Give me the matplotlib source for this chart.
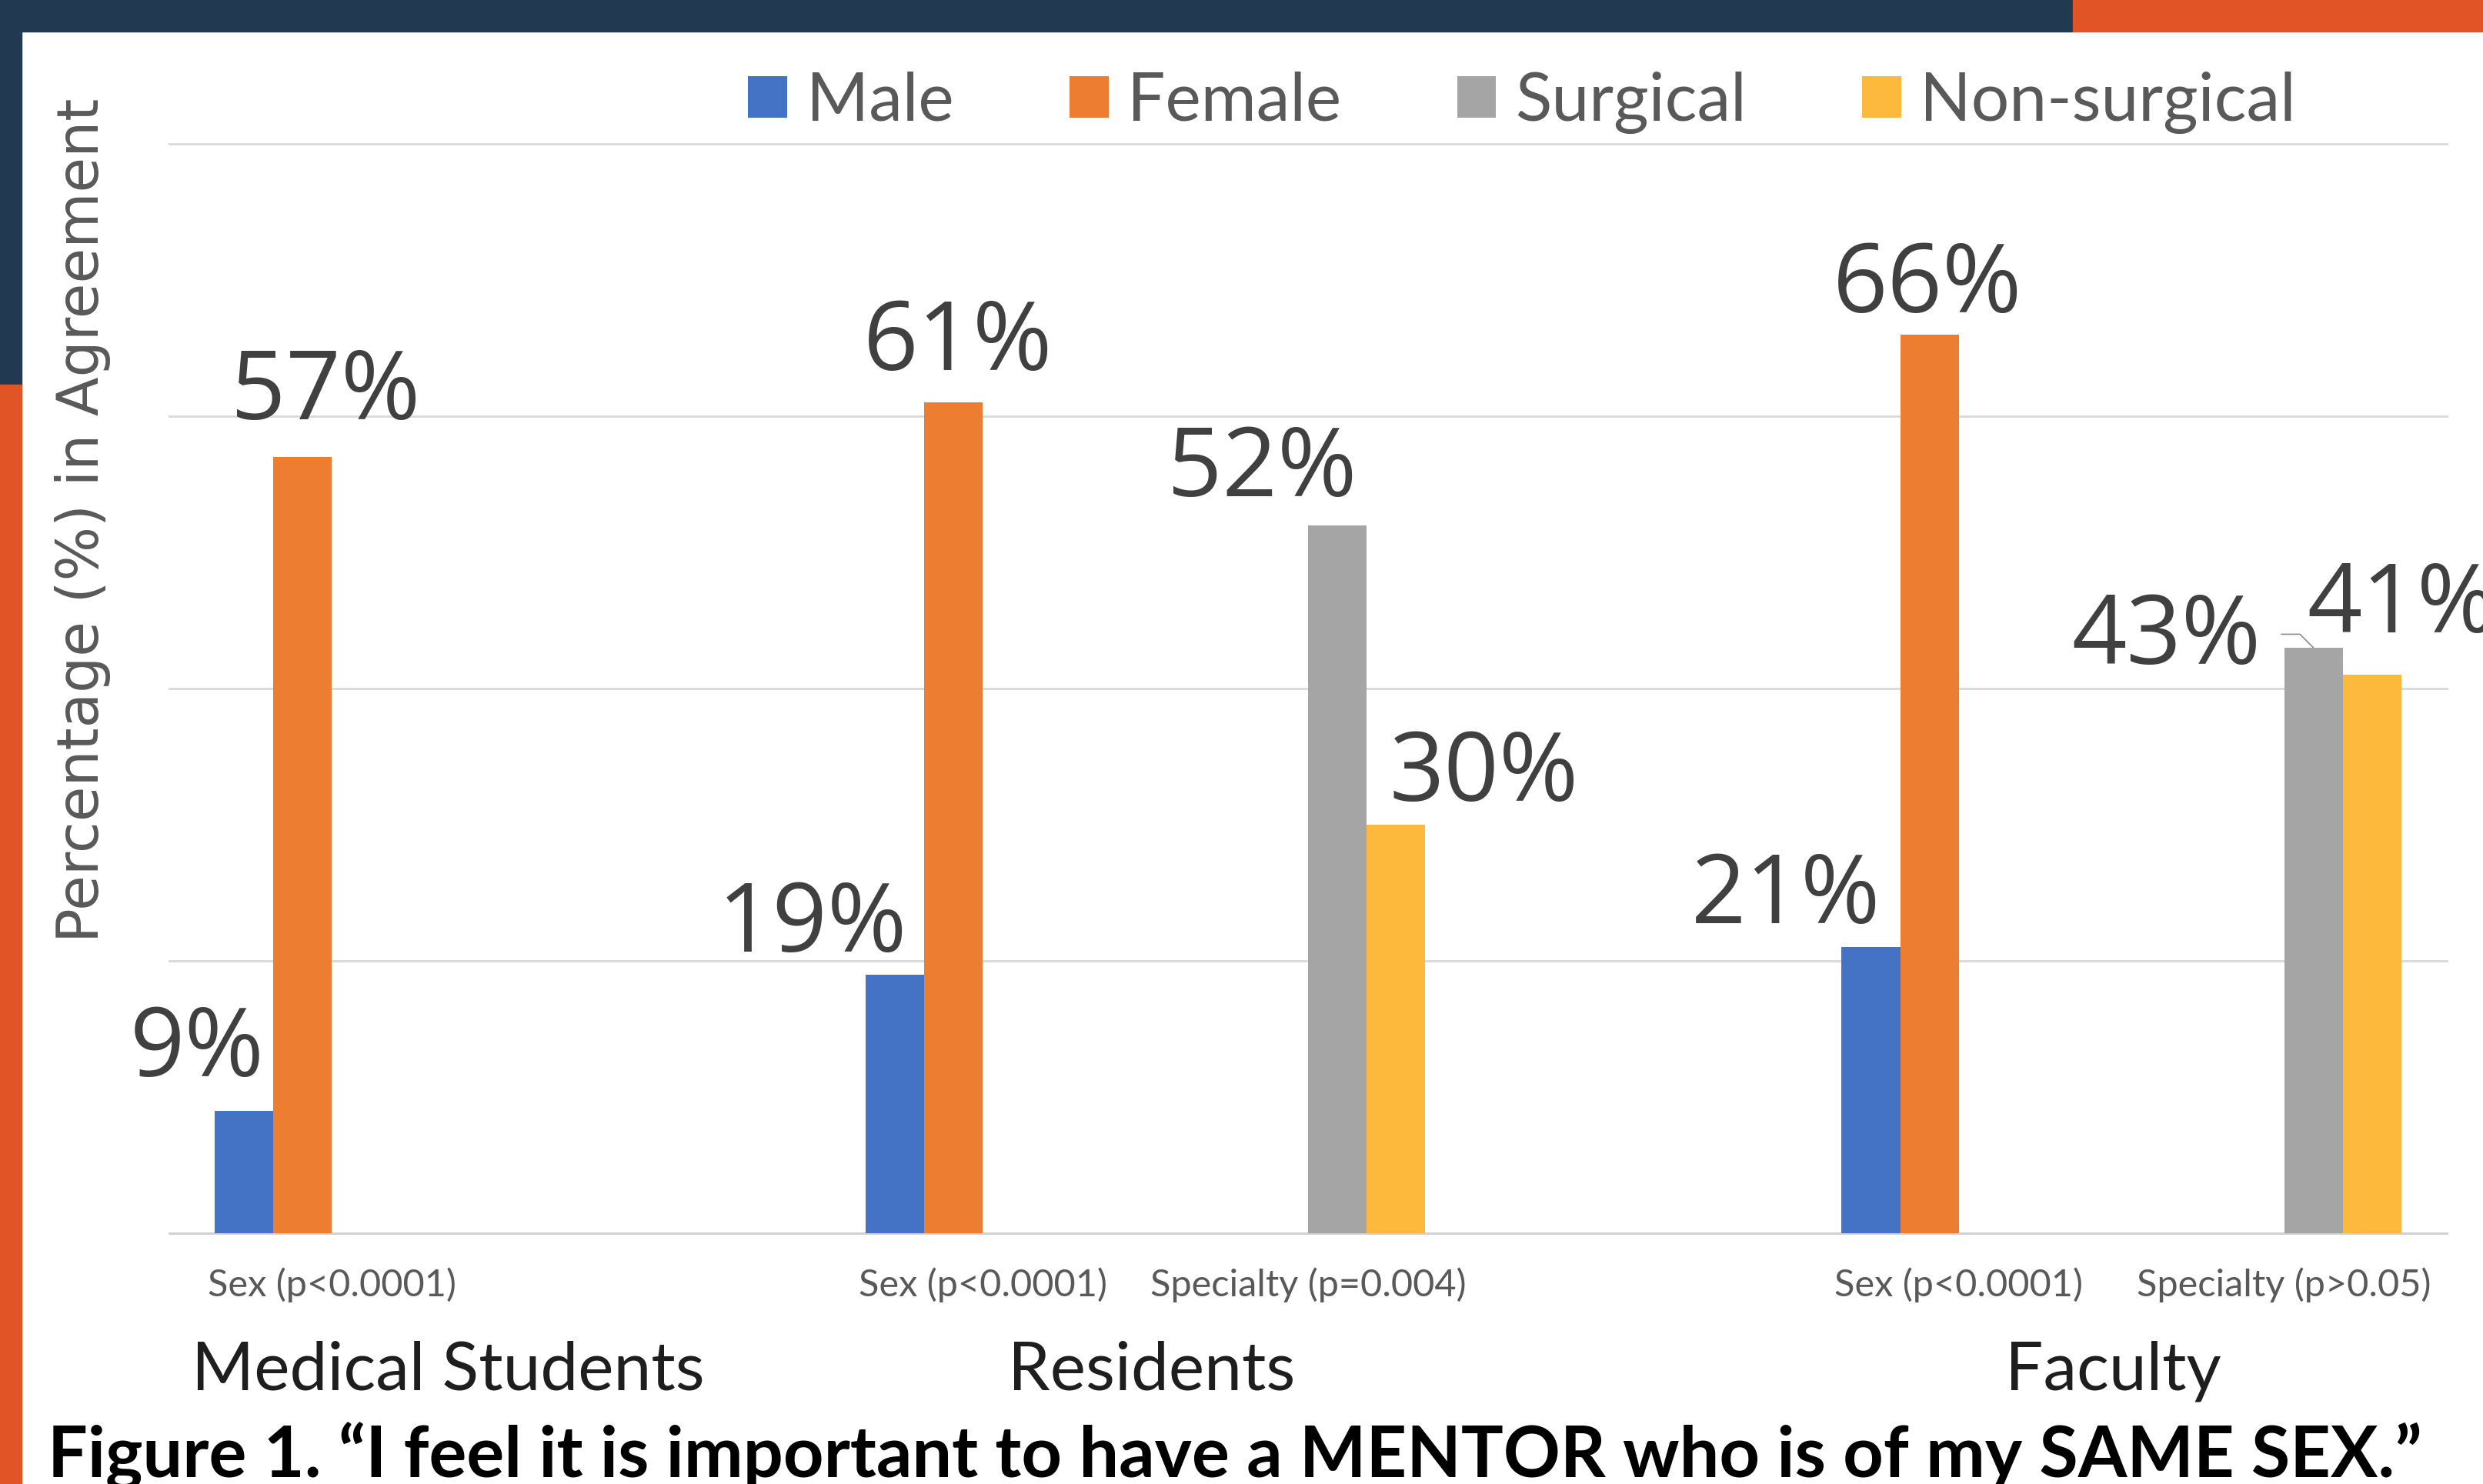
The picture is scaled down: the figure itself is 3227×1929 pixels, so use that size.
import numpy as np
import matplotlib
matplotlib.use('Agg')
import matplotlib.pyplot as plt
from matplotlib.patches import Rectangle, Patch

# data
categories = ['Sex (p<0.0001)', '', 'Sex (p<0.0001)', 'Specialty (p=0.004)', '',
              'Sex (p<0.0001)', 'Specialty (p>0.05)']
groups = ['Medical Students', 'Residents', 'Faculty']
series = ['Male', 'Female', 'Surgical', 'Non-surgical']
male = [9, np.nan, 19, np.nan, np.nan, 21, np.nan]
female = [57, np.nan, 61, np.nan, np.nan, 66, np.nan]
surgical = [np.nan, np.nan, np.nan, 52, np.nan, np.nan, 43]
non_surgical = [np.nan, np.nan, np.nan, 30, np.nan, np.nan, 41]
title = 'Figure 1. \u201cI feel it is important to have a MENTOR who is of my SAME SEX.\u201d'

colors = ['#4472C4', '#ED7D31', '#A5A5A5', '#FDB93B']
values = [male, female, surgical, non_surgical]

# label nudges (category units, percent) for the hand-placed data labels
label_shift = {
    (0, 0): (-0.144, 2.5), (1, 0): (0.071, 2.8),
    (0, 2): (-0.253, 1.7), (1, 2): (0.014, 2.4),
    (2, 3): (-0.232, 2.1), (3, 3): (0.27, 1.75),
    (0, 5): (-0.262, 1.75), (1, 5): (-0.007, 1.6),
    (2, 6): (-0.452, -1.2), (3, 6): (0.092, 3.1),
}
group_x = [0.356, 2.518, 5.474]

W, H = 3227, 1929
fig = plt.figure(figsize=(W / 100, H / 100), dpi=100, facecolor='white')

# slide decoration
fig.patches.append(Rectangle((0, 1 - 41 / H), 2694 / W, 41 / H, transform=fig.transFigure,
                             color='#213A52', zorder=0))
fig.patches.append(Rectangle((2694 / W, 1 - 41 / H), 1, 41 / H, transform=fig.transFigure,
                             color='#E05426', zorder=0))
fig.patches.append(Rectangle((0, 1 - 500 / H), 28 / W, 500 / H, transform=fig.transFigure,
                             color='#213A52', zorder=0))
fig.patches.append(Rectangle((0, 0), 28 / W, 1 - 500 / H, transform=fig.transFigure,
                             color='#E05426', zorder=0))

ax = fig.add_axes([220 / W, 1 - 1603 / H, 2960 / W, 1416 / H])
x = np.arange(len(categories))
bw = 0.18
for i, (name, vals, c) in enumerate(zip(series, values, colors)):
    off = (i - 1.5) * bw
    ax.bar(x + off, vals, width=bw, color=c, label=name, zorder=3)
    for j, v in enumerate(vals):
        if np.isnan(v):
            continue
        dx, dy = label_shift[(i, j)]
        if (i, j) == (2, 6):
            ax.annotate(f'{v:.0f}%', xy=(x[j] + off, v), xytext=(x[j] + off + dx, v + dy),
                        ha='center', va='baseline', fontsize=90, family='Open Sans',
                        color='#404040', annotation_clip=False,
                        arrowprops=dict(arrowstyle='-', color='#8c8c8c', lw=1.2,
                                        shrinkA=17, shrinkB=0, relpos=(1.0, 0.55),
                                        connectionstyle='angle,angleA=0,angleB=135,rad=0'))
        else:
            ax.text(x[j] + off + dx, v + dy, f'{v:.0f}%', ha='center', va='baseline',
                    fontsize=90, family='Open Sans', color='#404040', clip_on=False)

ax.set_xlim(-0.5, len(categories) - 0.5)
ax.set_ylim(0, 80)
ax.set_yticks([0, 20, 40, 60, 80])
ax.set_yticklabels([])
ax.tick_params(axis='y', length=0)
ax.grid(axis='y', color='#d9d9d9', lw=2, zorder=0)
for gl in ax.get_ygridlines():
    gl.set_clip_on(False)
for s in ['left', 'right', 'top']:
    ax.spines[s].set_visible(False)
ax.spines['bottom'].set_color('#d0d0d0')
ax.spines['bottom'].set_linewidth(2)

ax.set_xticks(x)
ax.set_xticklabels(categories, fontsize=35, color='#595959',
                   family=['Liberation Sans Narrow', 'Lato'])
ax.tick_params(axis='x', length=0, pad=32)

for g, gx in zip(groups, group_x):
    ax.text(gx, -0.144, g, transform=ax.get_xaxis_transform(), ha='center', va='baseline',
            fontsize=63, family='Lato', color='#1e1e1e')

handles = [Patch(facecolor=c, label=n) for n, c in zip(series, colors)]
leg = ax.legend(handles=handles, ncol=4, loc='center', bbox_to_anchor=(0.594, 1.038),
                frameon=False, fontsize=63, handlelength=0.58, handleheight=0.58,
                handletextpad=0.28, columnspacing=1.72, borderaxespad=0)
for t in leg.get_texts():
    t.set_color('#595959')
    t.set_family('Lato')

fig.text(108 / W, 1 - 676 / H, 'Percentage (%) in Agreement', rotation=90, ha='center',
         va='center', fontsize=53.5, family='DejaVu Sans', color='#595959')

fig.text(62 / W, 1 - 1920 / H, title, ha='left', va='baseline', fontsize=66,
         family='Lato', weight='bold', color='black')

fig.savefig('out.png', dpi=100, facecolor='white')
